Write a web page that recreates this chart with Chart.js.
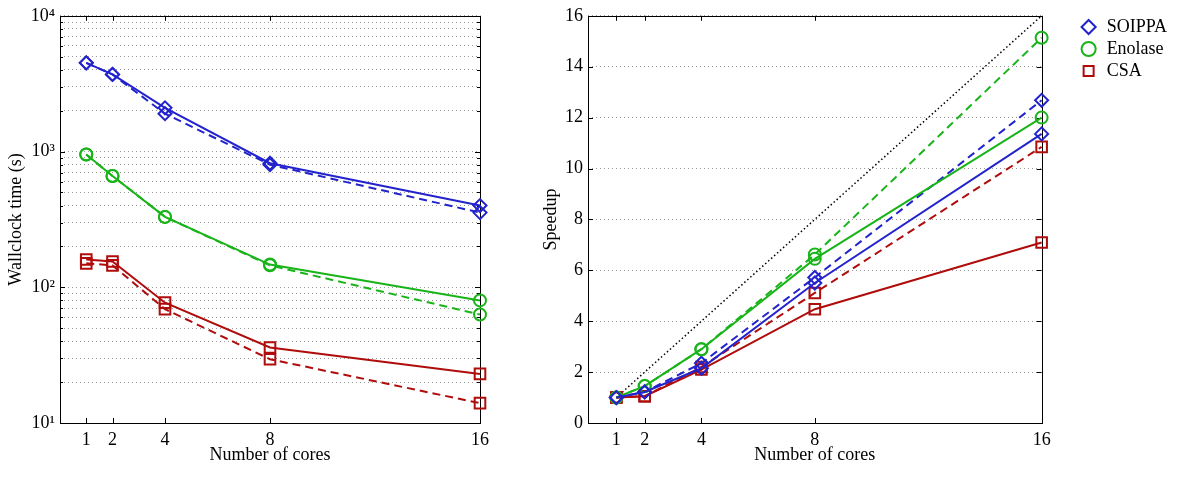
<!DOCTYPE html>
<html>
<head>
<meta charset="utf-8">
<script src="https://cdn.jsdelivr.net/npm/chart.js@4"></script>
<style>
  body { margin: 0; background: #fff; }
  #left { position: absolute; left: 0; top: 0; width: 510px; height: 481px; }
  #right { position: absolute; left: 530px; top: 0; width: 670px; height: 481px; }
</style>
</head>
<body>
<div id="left"><canvas id="timeChart"></canvas></div>
<div id="right"><canvas id="speedChart"></canvas></div>
<script>
const cores = [1, 2, 4, 8, 16];
const names = ['SOIPPA', 'Enolase', 'CSA'];

// wallclock time in seconds (solid / dashed runs)
const soippaTime = [4500, 3700, 2100, 820, 400];
const soippaTimeDash = [4500, 3700, 1900, 800, 355];
const enolaseTime = [950, 660, 330, 147, 80];
const enolaseTimeDash = [950, 660, 330, 145, 63];
const csaTime = [160, 155, 77, 36, 23];
const csaTimeDash = [150, 145, 69, 29.5, 14];

// speedup (solid / dashed runs)
const soippaSpeed = [1, 1.22, 2.15, 5.5, 11.36];
const soippaSpeedDash = [1, 1.22, 2.35, 5.72, 12.68];
const enolaseSpeed = [1, 1.45, 2.9, 6.45, 12.0];
const enolaseSpeedDash = [1, 1.45, 2.9, 6.62, 15.14];
const csaSpeed = [1, 1.05, 2.1, 4.47, 7.09];
const csaSpeedDash = [1, 1.05, 2.2, 5.11, 10.85];
const ideal = [1, 16];

const decades = [10, 100, 1000];
const decadeLabels = { 10: '10\u00b9', 100: '10\u00b2', 1000: '10\u00b3', 10000: '10\u2074' };
const speedTicks = [0, 2, 4, 6, 8, 10, 12, 14, 16];

const colors = ['rgb(35,35,205)', 'rgb(25,180,25)', 'rgb(175,12,12)'];
const styles = ['rectRot', 'circle', 'rect'];
const radii = [6.5, 6, 7.5];
const font = { family: 'Liberation Serif', size: 18 };

let timeGrid = [];
decades.forEach(d => { for (let m = 1; m <= 9; m++) timeGrid.push(d * m); });
timeGrid.push(10000);

function series(label, values, i, dashed) {
  return {
    label: label,
    data: values.map((v, k) => ({ x: cores[k], y: v })),
    borderColor: colors[i],
    backgroundColor: colors[i],
    borderWidth: 2,
    borderDash: dashed ? [8, 5] : [],
    pointStyle: styles[i],
    pointRadius: radii[i],
    pointBorderWidth: 2,
    pointBorderColor: colors[i],
    pointBackgroundColor: 'rgba(255,255,255,0)',
    clip: false
  };
}

const frame = {
  id: 'frame',
  beforeDatasetsDraw(chart) {
    const { ctx, chartArea: a, scales } = chart;
    ctx.save();
    ctx.strokeStyle = '#000';
    ctx.lineWidth = 1;
    ctx.strokeRect(Math.round(a.left) + 0.5, Math.round(a.top) + 0.5, Math.round(a.right - a.left), Math.round(a.bottom - a.top));
    ctx.beginPath();
    scales.x.ticks.forEach(t => {
      const px = Math.round(scales.x.getPixelForValue(t.value)) + 0.5;
      ctx.moveTo(px, a.bottom); ctx.lineTo(px, a.bottom - 5);
      ctx.moveTo(px, a.top); ctx.lineTo(px, a.top + 5);
    });
    scales.y.ticks.forEach(t => {
      const py = Math.round(scales.y.getPixelForValue(t.value)) + 0.5;
      const len = t.label ? 5 : 3;
      ctx.moveTo(a.left, py); ctx.lineTo(a.left + len, py);
      ctx.moveTo(a.right, py); ctx.lineTo(a.right - len, py);
    });
    ctx.stroke();
    ctx.restore();
  }
};

const xScale = {
  type: 'linear',
  min: 0,
  max: 16,
  afterBuildTicks: s => { s.ticks = cores.map(v => ({ value: v })); },
  afterFit: s => { s.height = 58; },
  grid: { drawOnChartArea: false, drawTicks: false },
  border: { display: false },
  ticks: { font: font, color: '#000', padding: 6, autoSkip: false, maxRotation: 0 },
  title: { display: true, text: 'Number of cores', font: font, color: '#000', padding: { top: 0, bottom: 15 } }
};

new Chart(document.getElementById('timeChart'), {
  type: 'line',
  data: {
    datasets: [
      series(names[0], soippaTime, 0, false),
      series(names[1], enolaseTime, 1, false),
      series(names[2], csaTime, 2, false),
      series(names[0] + ' (dashed)', soippaTimeDash, 0, true),
      series(names[1] + ' (dashed)', enolaseTimeDash, 1, true),
      series(names[2] + ' (dashed)', csaTimeDash, 2, true)
    ]
  },
  options: {
    responsive: true,
    maintainAspectRatio: false,
    animation: false,
    layout: { padding: { left: 0, top: 14, right: 30, bottom: 0 } },
    plugins: { legend: { display: false }, tooltip: { enabled: false } },
    scales: {
      x: xScale,
      y: {
        type: 'logarithmic',
        min: 10,
        max: 10000,
        afterBuildTicks: s => { s.ticks = timeGrid.map(v => ({ value: v })); },
        afterFit: s => { s.width = 60; },
        grid: { color: '#999', lineWidth: 1, drawTicks: false, borderDash: [1, 3] },
        border: { display: false, dash: [1, 3] },
        ticks: {
          font: font, color: '#000', padding: 5, autoSkip: false,
          callback: v => decadeLabels[v] || ''
        },
        title: { display: true, text: 'Wallclock time (s)', font: font, color: '#000', padding: { top: 5, bottom: 0 } }
      }
    }
  },
  plugins: [frame]
});

new Chart(document.getElementById('speedChart'), {
  type: 'line',
  data: {
    datasets: [
      series(names[0], soippaSpeed, 0, false),
      series(names[1], enolaseSpeed, 1, false),
      series(names[2], csaSpeed, 2, false),
      series(names[0] + ' (dashed)', soippaSpeedDash, 0, true),
      series(names[1] + ' (dashed)', enolaseSpeedDash, 1, true),
      series(names[2] + ' (dashed)', csaSpeedDash, 2, true),
      {
        label: 'Ideal',
        data: ideal.map(v => ({ x: v, y: v })),
        borderColor: '#000',
        borderWidth: 1.5,
        borderDash: [1.5, 2.5],
        pointRadius: 0
      }
    ]
  },
  options: {
    responsive: true,
    maintainAspectRatio: false,
    animation: false,
    layout: { padding: { left: 6, top: 14, right: 23, bottom: 0 } },
    plugins: {
      tooltip: { enabled: false },
      legend: {
        position: 'right',
        align: 'start',
        labels: {
          usePointStyle: true,
          boxHeight: 10,
          padding: 4,
          font: font,
          color: '#000',
          filter: item => item.datasetIndex < 3
        }
      }
    },
    scales: {
      x: xScale,
      y: {
        type: 'linear',
        min: 0,
        max: 16,
        afterBuildTicks: s => { s.ticks = speedTicks.map(v => ({ value: v })); },
        afterFit: s => { s.width = 52; },
        grid: { color: '#999', lineWidth: 1, drawTicks: false, borderDash: [1, 3] },
        border: { display: false, dash: [1, 3] },
        ticks: { font: font, color: '#000', padding: 5, autoSkip: false },
        title: { display: true, text: 'Speedup', font: font, color: '#000', padding: { top: 4, bottom: 0 } }
      },
      gap: {
        type: 'linear',
        position: 'right',
        afterFit: s => { s.width = 34; },
        grid: { display: false },
        border: { display: false },
        ticks: { display: false }
      }
    }
  },
  plugins: [frame]
});
</script>
</body>
</html>
